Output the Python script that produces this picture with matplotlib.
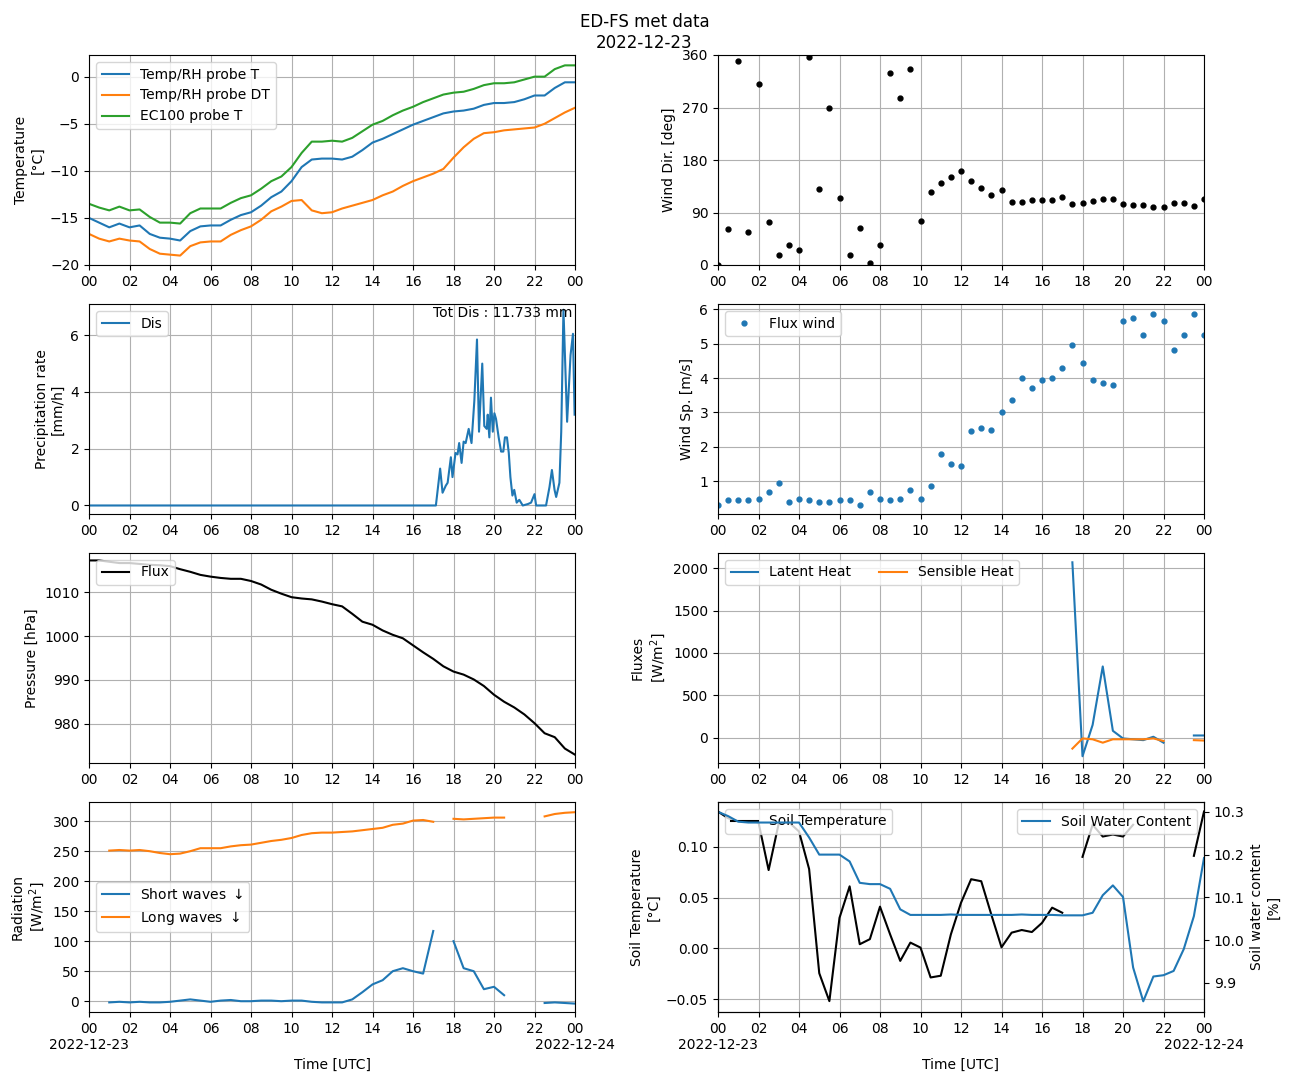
import numpy as np
import matplotlib
matplotlib.use("Agg")
import matplotlib.pyplot as plt

nan = np.nan
hours = np.arange(0, 24.01, 0.5)

temp_t = [-15,-15.5,-16,-15.6,-16,-15.8,-16.7,-17.1,-17.2,-17.4,-16.4,-15.9,-15.8,-15.8,-15.2,-14.7,-14.4,-13.7,-12.8,-12.2,-11.1,-9.6,-8.8,-8.7,-8.7,-8.8,-8.5,-7.8,-7,-6.6,-6.1,-5.6,-5.1,-4.7,-4.3,-3.9,-3.7,-3.6,-3.4,-3.0,-2.8,-2.8,-2.7,-2.4,-2.0,-2.0,-1.2,-0.6,-0.6]
temp_dt = [-16.7,-17.2,-17.5,-17.2,-17.4,-17.5,-18.3,-18.8,-18.9,-19.0,-18,-17.6,-17.5,-17.5,-16.8,-16.3,-15.9,-15.2,-14.3,-13.8,-13.2,-13.1,-14.2,-14.5,-14.4,-14.0,-13.7,-13.4,-13.1,-12.6,-12.2,-11.6,-11.1,-10.7,-10.3,-9.8,-8.6,-7.5,-6.6,-6.0,-5.9,-5.7,-5.6,-5.5,-5.4,-5.0,-4.4,-3.8,-3.3]
temp_ec = [-13.5,-13.9,-14.2,-13.8,-14.2,-14.1,-14.9,-15.5,-15.5,-15.6,-14.5,-14,-14,-14,-13.4,-12.9,-12.6,-11.9,-11.1,-10.6,-9.6,-8.1,-6.9,-6.9,-6.8,-6.9,-6.5,-5.8,-5.1,-4.7,-4.1,-3.6,-3.2,-2.7,-2.3,-1.9,-1.7,-1.6,-1.3,-0.9,-0.7,-0.7,-0.6,-0.3,0,0,0.8,1.2,1.2]

wind_dir = [0,62,350,57,310,74,17,34,26,357,130,269,115,17,63,3,34,329,286,336,75,125,140,151,161,144,132,120,128,108,108,111,111,111,116,105,106,110,113,113,105,103,103,100,100,106,106,101,113]
wind_sp = [0.3,0.45,0.45,0.45,0.5,0.7,0.95,0.4,0.5,0.45,0.4,0.4,0.45,0.45,0.3,0.7,0.5,0.45,0.5,0.75,0.5,0.85,1.8,1.5,1.45,2.45,2.55,2.5,3.0,3.35,4.0,3.7,3.95,4.0,4.3,4.95,4.45,3.95,3.85,3.8,5.65,5.75,5.25,5.85,5.65,4.8,5.25,5.85,5.25]

precip_t = [0,17.0,17.13,17.34,17.46,17.62,17.71,17.87,17.95,18.10,18.20,18.28,18.40,18.50,18.60,18.75,18.89,19.03,19.16,19.26,19.42,19.52,19.64,19.69,19.77,19.85,19.94,20.02,20.10,20.23,20.35,20.46,20.54,20.64,20.73,20.81,20.91,21.0,21.12,21.25,21.42,21.67,21.83,22.0,22.08,22.57,22.74,22.86,22.99,23.07,23.23,23.32,23.43,23.61,23.78,23.90,23.98]
precip = [0,0,0,1.3,0.45,0.7,0.8,1.7,1.0,1.85,1.8,2.2,1.5,2.25,2.2,2.7,2.2,3.7,5.85,2.6,5.0,2.8,2.7,3.2,2.4,3.8,2.6,3.25,3.05,2.4,1.9,1.9,2.4,2.4,1.85,1.0,0.35,0.55,0.1,0.2,0,0.05,0.1,0.4,0,0,0.65,1.25,0.55,0.3,0.8,2.6,6.9,2.95,5.3,6.05,3.2]

pressure = [1017.3,1017.3,1017,1016.7,1016.7,1016.5,1016.3,1016.2,1016,1015.3,1014.7,1014,1013.6,1013.3,1013.1,1013.1,1012.6,1011.8,1010.6,1009.7,1008.9,1008.6,1008.4,1007.9,1007.3,1006.8,1005.1,1003.3,1002.6,1001.3,1000.3,999.5,997.9,996.3,994.8,993.1,991.9,991.2,990.1,988.6,986.6,985,983.7,982.1,980.1,977.8,976.9,974.3,972.9]

latent = [nan]*35 + [2070,-220,150,840,80,-10,-20,-30,10,-60,nan,nan,25,25]
sensible = [nan]*35 + [-130,-10,-20,-60,-20,-20,-20,-20,-10,-40,nan,nan,-30,-35]

short_w = [nan,nan,-2,-1,-2,-1,-2,-2,-1,1,3,1,-1,1,2,0,0,1,1,0,1,1,-1,-2,-2,-2,3,15,28,35,50,55,50,46,117,nan,100,55,50,20,24,10,nan,nan,nan,-3,-2,-3,-4]
long_w = [nan,nan,251,252,251,252,250,247,245,246,250,255,255,255,258,260,261,264,267,269,272,277,280,281,281,282,283,285,287,289,294,296,301,302,299,nan,304,303,304,305,306,306,nan,nan,nan,308,312,314,315]

soil_t = [0.1346,0.128,0.125,0.125,0.124,0.077,0.123,0.124,0.115,0.078,-0.0245,-0.052,0.030,0.061,0.004,0.009,0.041,0.0137,-0.0124,0.0056,0.0007,-0.0287,-0.027,0.0137,0.0448,0.068,0.066,0.033,0.001,0.0154,0.018,0.016,0.025,0.040,0.035,nan,0.090,0.1216,0.110,0.112,0.110,0.1216,nan,nan,nan,nan,nan,0.091,0.1346]
soil_w = [10.3,10.29,10.277,10.275,10.275,10.275,10.275,10.275,10.275,10.24,10.20,10.20,10.20,10.184,10.134,10.131,10.131,10.12,10.072,10.059,10.059,10.059,10.059,10.06,10.059,10.059,10.059,10.059,10.059,10.059,10.06,10.059,10.059,10.059,10.058,10.058,10.058,10.064,10.105,10.128,10.101,9.936,9.857,9.915,9.918,9.928,9.979,10.056,10.192]

W, H = 1289, 1082
fig = plt.figure(figsize=(W/100, H/100), dpi=100)
fig.suptitle("ED-FS met data\n2022-12-23", fontsize=12, y=0.988)

def mk(x0, y0, y1):
    return fig.add_axes([x0/W, (H-y1)/H, 486/W, (y1-y0)/H])

cols = [89, 718]
rows = [(55, 265), (304, 514), (553, 763), (802, 1012)]
ticks = np.arange(0, 25, 2)
lab = ["%02d" % (t % 24) for t in ticks]
labb = list(lab)
labb[0] = "00\n2022-12-23"; labb[-1] = "00\n2022-12-24"

axs = [[mk(c, r[0], r[1]) for c in cols] for r in rows]
for i, row in enumerate(axs):
    for ax in row:
        ax.set_xlim(0, 24)
        ax.set_xticks(ticks)
        ax.set_xticklabels(labb if i == 3 else lab)
        ax.grid(True, color="#b0b0b0")
        if i == 3:
            ax.set_xlabel("Time [UTC]")

ax = axs[0][0]
ax.plot(hours, temp_t, label="Temp/RH probe T")
ax.plot(hours, temp_dt, label="Temp/RH probe DT")
ax.plot(hours, temp_ec, label="EC100 probe T")
ax.set_ylim(-20, 2.3)
ax.set_ylabel("Temperature\n[°C]")
ax.legend(loc="upper left")

ax = axs[0][1]
ax.plot(hours, wind_dir, "k.", ms=7)
ax.set_ylim(0, 360); ax.set_yticks([0, 90, 180, 270, 360])
ax.set_ylabel("Wind Dir. [deg]")

ax = axs[1][0]
ax.plot(precip_t, precip, label="Dis")
ax.set_ylim(-0.3, 7.1)
ax.set_ylabel("Precipitation rate\n[mm/h]")
ax.legend(loc="upper left")
ax.text(0.995, 0.99, "Tot Dis : 11.733 mm", transform=ax.transAxes, ha="right", va="top")

ax = axs[1][1]
ax.plot(hours, wind_sp, ".", ms=7, label="Flux wind")
ax.set_ylim(0.05, 6.15)
ax.set_ylabel("Wind Sp. [m/s]")
ax.legend(loc="upper left")

ax = axs[2][0]
ax.plot(hours, pressure, "k", label="Flux")
ax.set_ylim(971, 1019)
ax.set_ylabel("Pressure [hPa]")
ax.legend(loc="upper left")

ax = axs[2][1]
ax.plot(hours, latent, label="Latent Heat")
ax.plot(hours, sensible, label="Sensible Heat")
ax.set_ylim(-300, 2180)
ax.set_ylabel("Fluxes\n[W/m$^2$]")
ax.legend(loc="upper left", ncol=2)

ax = axs[3][0]
ax.plot(hours, short_w, label="Short waves $\\downarrow$")
ax.plot(hours, long_w, label="Long waves $\\downarrow$")
ax.set_ylim(-18, 332)
ax.set_ylabel("Radiation\n[W/m$^2$]")
ax.legend(loc="center left")

ax = axs[3][1]
ax.plot(hours, soil_t, "k", label="Soil Temperature")
ax.set_ylim(-0.0627, 0.144)
ax.set_yticks([-0.05, 0, 0.05, 0.10])
ax.set_ylabel("Soil Temperature\n[°C]")
ax.legend(loc="upper left")
ax2 = ax.twinx()
ax2.plot(hours, soil_w, label="Soil Water Content")
ax2.set_ylim(9.832, 10.323)
ax2.set_yticks([9.9, 10.0, 10.1, 10.2, 10.3])
ax2.set_ylabel("Soil water content\n[%]")
ax2.legend(loc="upper right")

fig.savefig("out.png", dpi=100)
